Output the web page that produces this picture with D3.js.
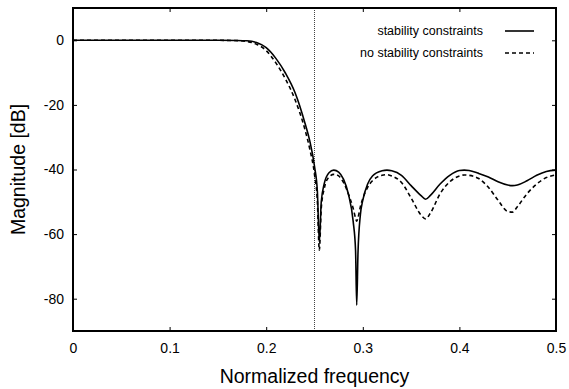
<!DOCTYPE html>
<html>
<head>
<meta charset="utf-8">
<script src="https://cdn.jsdelivr.net/npm/d3@7"></script>
<style>
  body { margin: 0; background: #fff; }
  text { font-family: "Liberation Sans", Arial, sans-serif; fill: #000; }
</style>
</head>
<body>
<svg id="chart" width="569" height="389"></svg>
<script>
// normalized frequency grid (shared by both curves)
const freq = [0, 0.05, 0.1, 0.15, 0.17, 0.18, 0.19, 0.2, 0.21, 0.22, 0.23, 0.24, 0.245, 0.25, 0.253, 0.255,
  0.257, 0.26, 0.265, 0.27, 0.275, 0.28, 0.285, 0.29, 0.2925, 0.2937, 0.295, 0.2975, 0.3, 0.305, 0.31,
  0.32, 0.325, 0.33, 0.34, 0.35, 0.36, 0.365, 0.37, 0.38, 0.39, 0.4, 0.405, 0.41, 0.42, 0.43, 0.44,
  0.45, 0.455, 0.46, 0.47, 0.48, 0.49, 0.5];

// magnitude [dB], with stability constraints
const withStab = [0, 0, 0, 0, -0.05, -0.15, -0.7, -2.3, -5.6, -10.2, -16.3, -25.5, -31, -39, -47, -62.5,
  -50, -44.5, -41, -40.2, -40.8, -43, -47.5, -56, -65, -82, -66, -54, -49.5, -44.5, -42,
  -40.4, -40.2, -40.4, -41.8, -45, -48, -49.2, -48, -44.5, -41.8, -40.3, -40.2, -40.3, -41.2, -42.3, -43.8,
  -44.8, -45, -44.8, -43.5, -41.8, -40.6, -40.2];

// magnitude [dB], without stability constraints
const noStab = [0, 0, 0, 0, -0.1, -0.35, -1.2, -3.2, -7, -12, -18.5, -27.5, -33.5, -41.5, -50, -65,
  -52, -46, -42.3, -41.5, -42, -44, -47.5, -52, -55, -56, -55, -51.5, -49, -45.5, -43.5,
  -41.8, -41.6, -42, -44, -48.8, -54, -55.3, -53.5, -47.5, -43.8, -42, -41.7, -41.8, -42.8, -45.5, -49.5,
  -53, -53.2, -51.5, -47.5, -44.5, -42.5, -41.7];

const xTicks = [0, 0.1, 0.2, 0.3, 0.4, 0.5];
const yTicks = [0, -20, -40, -60, -80];
const cutoff = 0.25;
const legendLabels = ["stability constraints", "no stability constraints"];

const W = 569, H = 389;
const margin = {top: 8, right: 13, bottom: 58, left: 73};
const w = W - margin.left - margin.right;
const h = H - margin.top - margin.bottom;

const svg = d3.select("#chart");
const g = svg.append("g").attr("transform", `translate(${margin.left},${margin.top})`);

const x = d3.scaleLinear().domain([0, 0.5]).range([0, w]);
const y = d3.scaleLinear().domain([-90, 10]).range([h, 0]);

svg.append("defs").append("clipPath").attr("id", "clip")
  .append("rect").attr("width", w).attr("height", h);

// axes, ticks pointing inwards (plain hyphen for negatives, like the original)
const fmtX = d => d === 0 ? "0" : d3.format(".1f")(d);
const fmtY = d => String(d);
g.append("g").attr("class", "axis").attr("transform", `translate(0,${h})`)
  .call(d3.axisBottom(x).tickValues(xTicks).tickSize(-4).tickSizeOuter(0).tickPadding(12).tickFormat(fmtX));
g.append("g").attr("class", "axis")
  .call(d3.axisTop(x).tickValues(xTicks).tickSize(-4).tickSizeOuter(0).tickFormat(""));
g.append("g").attr("class", "axis")
  .call(d3.axisLeft(y).tickValues(yTicks).tickSize(-4).tickSizeOuter(0).tickPadding(9).tickFormat(fmtY));
g.append("g").attr("class", "axis").attr("transform", `translate(${w},0)`)
  .call(d3.axisRight(y).tickValues(yTicks).tickSize(-4).tickSizeOuter(0).tickFormat(""));

g.selectAll(".axis .domain").remove();
g.selectAll(".axis line").attr("stroke", "#000").attr("stroke-width", 1);
g.selectAll(".axis text").style("font-size", "14px").style("font-family", "Liberation Sans, Arial, sans-serif");

// cutoff marker
g.append("line")
  .attr("x1", x(cutoff)).attr("x2", x(cutoff))
  .attr("y1", 0).attr("y2", h)
  .attr("stroke", "#444").attr("stroke-width", 1).attr("stroke-dasharray", "1,1");

const line = d3.line()
  .x((d, i) => x(freq[i]))
  .y(d => y(d))
  .curve(d3.curveMonotoneX);

const plot = g.append("g").attr("clip-path", "url(#clip)");
plot.append("path").datum(noStab)
  .attr("d", line).attr("fill", "none")
  .attr("stroke", "#000").attr("stroke-width", 1.6).attr("stroke-dasharray", "4,3");
plot.append("path").datum(withStab)
  .attr("d", line).attr("fill", "none")
  .attr("stroke", "#000").attr("stroke-width", 1.6);

// frame
g.append("rect").attr("width", w).attr("height", h)
  .attr("fill", "none").attr("stroke", "#000").attr("stroke-width", 2);

// legend
const legend = g.append("g");
legendLabels.forEach((lab, i) => {
  const ly = 23 + i * 22;
  legend.append("text")
    .attr("x", 410).attr("y", ly).attr("dy", "0.35em")
    .attr("text-anchor", "end").style("font-size", "12.5px")
    .text(lab);
  legend.append("line")
    .attr("x1", 432).attr("x2", 461).attr("y1", ly).attr("y2", ly)
    .attr("stroke", "#000").attr("stroke-width", 1.6)
    .attr("stroke-dasharray", i === 0 ? null : "4,3");
});

// axis titles
svg.append("text")
  .attr("x", margin.left + w / 2).attr("y", 383)
  .attr("text-anchor", "middle").style("font-size", "19.5px")
  .text("Normalized frequency");
svg.append("text")
  .attr("transform", `translate(25,${margin.top + h / 2}) rotate(-90)`)
  .attr("text-anchor", "middle").style("font-size", "19.5px")
  .text("Magnitude [dB]");
</script>
</body>
</html>
